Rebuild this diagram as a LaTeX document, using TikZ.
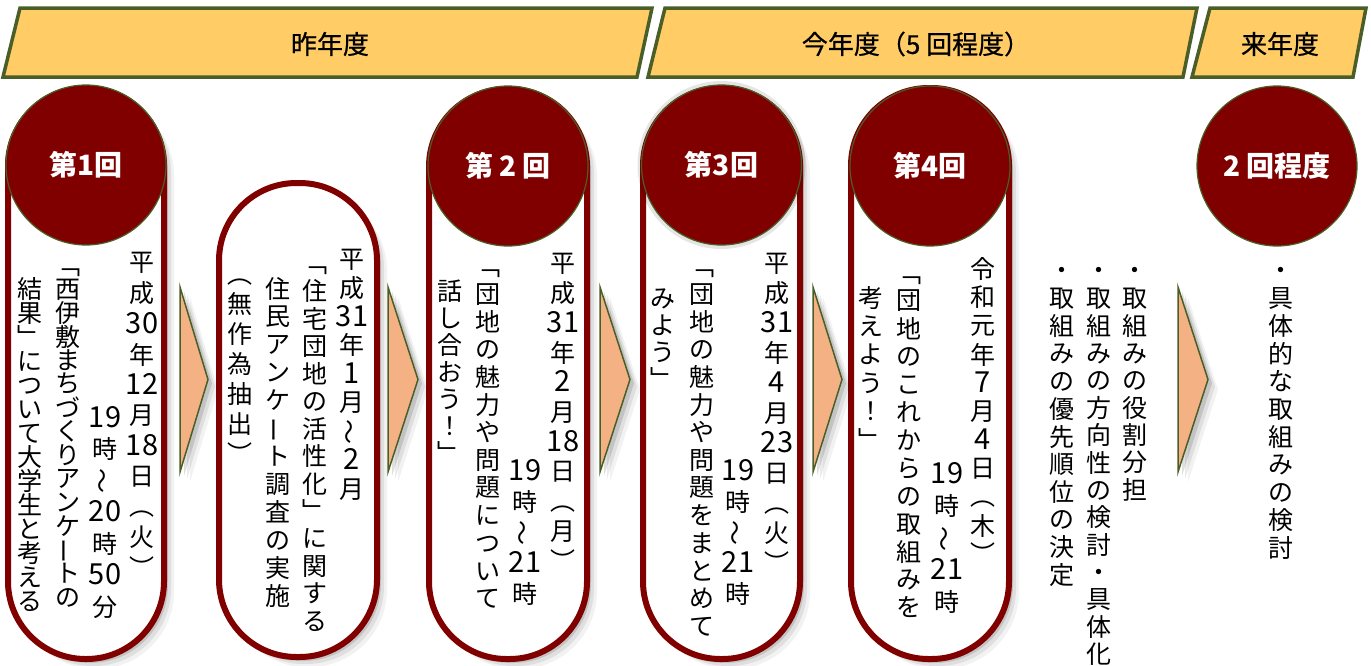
\documentclass[tikz,border=0pt]{standalone}
\usepackage{fontspec}
\usepackage{graphicx}
\setmainfont{Noto Sans CJK JP}
\newfontfamily\jp{Noto Sans CJK JP}
\newfontfamily\jpm[FakeBold=0.7]{Noto Sans CJK JP}
\definecolor{dred}{HTML}{800000}
\definecolor{bgreen}{HTML}{4A5F28}
\definecolor{bannerfill}{HTML}{FFCC66}
\definecolor{arrowfill}{HTML}{F4B183}
\makeatletter
\newdimen\vpitch
\newcommand\vcell[1]{\hbox to 0pt{\hss\vbox to\vpitch{\vss\hbox{\vphantom{国}#1}\vss}\hss}}
\newcommand\vcol[2]{\vpitch=#1pt\relax\vbox{\offinterlineskip\@tfor\vc@x:=#2\do{\vcell{\vc@x}}}}
\makeatother
\newcommand\dg[1]{{\fontsize{29}{29}\selectfont #1}}
\newcommand\vw{\rotatebox[origin=c]{90}{～}}
\newcommand\vb{\rotatebox[origin=c]{90}{ー}}
\begin{document}
\begin{tikzpicture}[x=1pt,y=-1pt,
  banner/.style={draw=bgreen, line width=3.5pt, fill=bannerfill, line join=miter},
  hdr/.style={font=\jpm\fontsize{26}{26}\selectfont, inner sep=0},
  softshadow/.style={
    preaction={fill=black, opacity=.12, transform canvas={xshift=4pt,yshift=-4pt}},
    preaction={fill=black, opacity=.08, transform canvas={xshift=7pt,yshift=-7pt}},
    preaction={fill=black, opacity=.05, transform canvas={xshift=10pt,yshift=-10pt}}},
  pill/.style={softshadow, draw=dred, line width=6pt, fill=white, rounded corners=77.5pt, inner sep=0, rectangle},
  badge/.style={circle, fill=dred, draw=bgreen, line width=1.2pt, minimum size=160pt, inner sep=0,
    text=white, font=\jp\bfseries\fontsize{28}{28}\selectfont},
  chev/.style={softshadow, fill=arrowfill, draw=bgreen, line width=1.5pt, line join=miter},
  vtext/.style={anchor=north, inner sep=0, font=\jp\fontsize{25}{25}\selectfont}]
\useasboundingbox (0,0) rectangle (1371,665);

% ---- banners
\coordinate (b1a) at (20,8);   \coordinate (b1b) at (652,8);
\coordinate (b1c) at (637,77); \coordinate (b1d) at (3,77);
\draw[banner] (b1a) -- (b1b) -- (b1c) -- (b1d) -- cycle;
\node[hdr] (h1) at (330,44) {昨年度};
\coordinate (b2a) at (665,8);   \coordinate (b2b) at (1197,8);
\coordinate (b2c) at (1183,77); \coordinate (b2d) at (648,77);
\draw[banner] (b2a) -- (b2b) -- (b2c) -- (b2d) -- cycle;
\node[hdr] (h2) at (916,44) {今年度（5 回程度）};
\coordinate (b3a) at (1210,8);  \coordinate (b3b) at (1366,8);
\coordinate (b3c) at (1353,77); \coordinate (b3d) at (1192,77);
\draw[banner] (b3a) -- (b3b) -- (b3c) -- (b3d) -- cycle;
\node[hdr] (h3) at (1280,44) {来年度};

% ---- pills
\node[pill, minimum width=156pt, minimum height=571pt] (p1) at (86,373.5) {};
\node[pill, minimum width=158pt, minimum height=474pt] (p2) at (298,420) {};
\node[pill, minimum width=158pt, minimum height=570pt] (p3) at (508,374) {};
\node[pill, minimum width=157pt, minimum height=571pt] (p4) at (721.5,373.5) {};
\node[pill, minimum width=158pt, minimum height=571pt] (p5) at (930,373.5) {};

% ---- badges
\node[badge] (c1) at (86,165) {\raisebox{-4pt}{第1回}};
\node[badge] (c2) at (508,166) {\raisebox{-4pt}{第 2 回}};
\node[badge, preaction={fill=black, opacity=.10, draw=black, line width=8pt}] (c3) at (721.5,165) {\raisebox{-4pt}{第3回}};
\node[badge] (c4) at (930,166) {\raisebox{-4pt}{第4回}};
\node[badge] (c5) at (1277,166) {\raisebox{-4pt}{2 回程度}};

% ---- chevrons
\foreach \n/\xa/\xb in {1/180/208, 2/388/418, 3/600/630, 4/813/842, 5/1178/1208}{
  \coordinate (a\n t) at (\xa,287);
  \coordinate (a\n p) at (\xb,379.5);
  \coordinate (a\n b) at (\xa,472);
  \draw[chev] (a\n t) -- (a\n p) -- (a\n b) -- cycle;
}

% ---- pill 1 text
\node[vtext] (t1a) at (142,247.5) {\vcol{30.5}{平成{\dg{30}}年{\dg{12}}月{\dg{18}}日︵火︶}};
\node[vtext] (t1b) at (105,402) {\vcol{31.5}{{\dg{19}}時\vw{\dg{20}}時{\dg{50}}分}};
\node[vtext] (t1c) at (68,253.5) {\vcol{23.7}{﹁西伊敷まちづくりアンケ\vb トの}};
\node[vtext] (t1d) at (30,277) {\vcol{24}{結果﹂について大学生と考える}};

% ---- pill 2 text
\node[vtext] (t2a) at (352,244.6) {\vcol{28.75}{平成{\dg{31}}年{\dg{1}}月\vw{\dg{2}}月}};
\node[vtext] (t2b) at (315,249.8) {\vcol{27.5}{﹁住宅団地の活性化﹂に関する}};
\node[vtext] (t2c) at (278,275) {\vcol{27.9}{住民アンケ\vb ト調査の実施}};
\node[vtext] (t2d) at (240,259) {\vcol{30}{︵無作為抽出︶}};

% ---- pill 3 text
\node[vtext] (t3a) at (563,248) {\vcol{29.8}{平成{\dg{31}}年{\dg{2}}月{\dg{18}}日︵月︶}};
\node[vtext] (t3b) at (525,455.6) {\vcol{30.75}{{\dg{19}}時\vw{\dg{21}}時}};
\node[vtext] (t3c) at (488,252.4) {\vcol{27.7}{﹁団地の魅力や問題について}};
\node[vtext] (t3d) at (450,277.5) {\vcol{27}{話し合おう！﹂}};

% ---- pill 4 text
\node[vtext] (t4a) at (777,248) {\vcol{30}{平成{\dg{31}}年{\dg{4}}月{\dg{23}}日︵火︶}};
\node[vtext] (t4b) at (738,455.6) {\vcol{30.75}{{\dg{19}}時\vw{\dg{21}}時}};
\node[vtext] (t4c) at (702,252.4) {\vcol{27.7}{﹁団地の魅力や問題をまとめて}};
\node[vtext] (t4d) at (663,284.5) {\vcol{27}{みよう﹂}};

% ---- pill 5 text
\node[vtext] (t5a) at (983,254.6) {\vcol{28.5}{令和元年{\dg{7}}月{\dg{4}}日︵木︶}};
\node[vtext] (t5b) at (947,458) {\vcol{32}{{\dg{19}}時\vw{\dg{21}}時}};
\node[vtext] (t5c) at (909,259) {\vcol{27.9}{﹁団地のこれからの取組みを}};
\node[vtext] (t5d) at (871,284) {\vcol{28.25}{考えよう！﹂}};

% ---- bullet lists
\node[vtext] (l1) at (1135,257) {\vcol{27.4}{・取組みの役割分担}};
\node[vtext] (l2) at (1099,257) {\vcol{27.4}{・取組みの方向性の検討・具体化}};
\node[vtext] (l3) at (1062,257) {\vcol{27.6}{・取組みの優先順位の決定}};
\node[vtext] (l4) at (1281,257) {\vcol{27.7}{・具体的な取組みの検討}};
\end{tikzpicture}
\end{document}
